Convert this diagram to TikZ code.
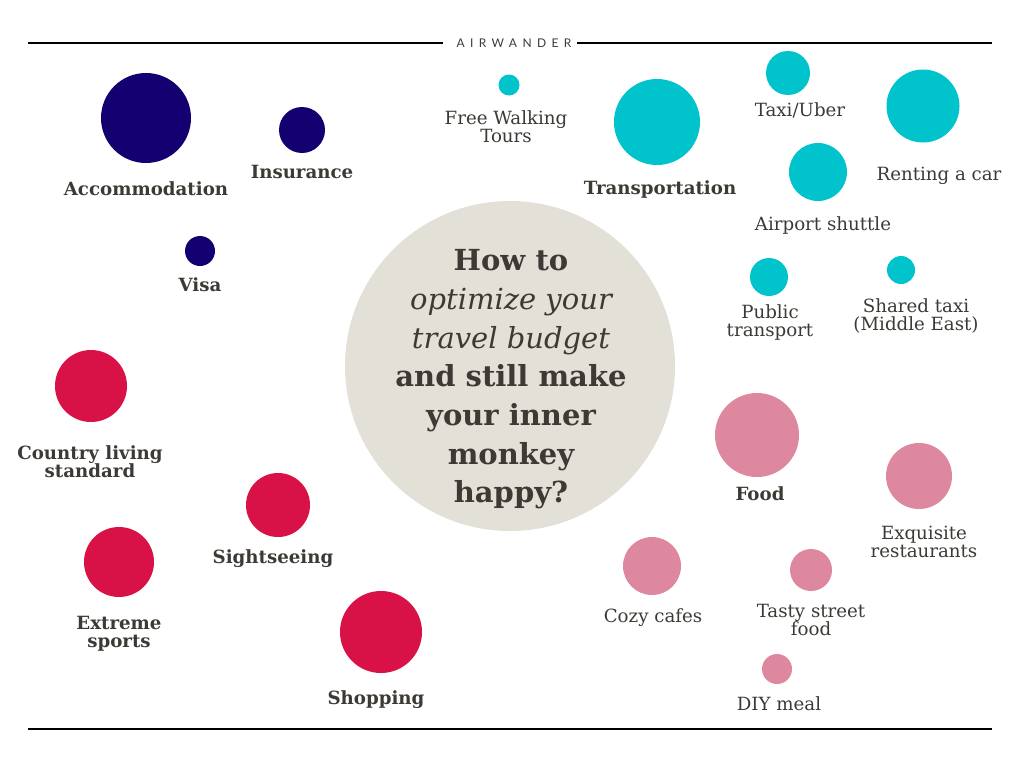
\documentclass[tikz,border=0pt]{standalone}
\usepackage{fontspec}
\setmainfont{DejaVu Serif}
\newfontfamily\brand[LetterSpace=45]{Lato}
\definecolor{navy}{HTML}{140070}
\definecolor{teal}{HTML}{00C3CC}
\definecolor{pinkc}{HTML}{DE889F}
\definecolor{redc}{HTML}{D81246}
\definecolor{greyc}{HTML}{E3E0D8}
\definecolor{ink}{HTML}{3D3A35}
\newcommand{\fsz}[2]{\fontsize{#1}{#2}\selectfont}
\tikzset{
  dot/.style={circle, draw=none, inner sep=0pt},
  lab/.style={text=ink, align=center, inner sep=0pt, font=\fsz{18.2}{18}},
  blab/.style={lab, font=\fsz{18.2}{18}\bfseries},
  rule/.style={line width=2.5pt, black}
}
\begin{document}
\begin{tikzpicture}[x=1pt,y=-1pt]
\useasboundingbox (0,0) rectangle (1024,768);
% header/footer
\coordinate (tl1) at (28,43); \coordinate (tl2) at (443,43);
\coordinate (tr1) at (577,43); \coordinate (tr2) at (992,43);
\coordinate (bl) at (28,729); \coordinate (br) at (992,729);
\draw[line width=2pt] (tl1) -- (tl2);
\draw[rule] (tr1) -- (tr2);
\draw[rule] (bl) -- (br);
\node[text=ink, font=\brand\fsz{12}{12}] (brand) at (514,43) {AIRWANDER};
% central circle
\node[dot, fill=greyc, minimum size=330pt] (center) at (510,366) {};
\node[text=ink, align=center, font=\fsz{29}{38.7}\bfseries] (title) at (511,379.5)
 {How to\\ {\mdseries\itshape optimize your}\\ {\mdseries\itshape travel budget}\\ and still make\\ your inner\\ monkey\\ happy?};
% navy
\node[dot, fill=navy, minimum size=90pt] (acc) at (146,118) {};
\node[blab] (accl) at (146,189) {Accommodation};
\node[dot, fill=navy, minimum size=46pt] (ins) at (302,130) {};
\node[blab] (insl) at (302,172) {Insurance};
\node[dot, fill=navy, minimum size=30pt] (visa) at (200,251) {};
\node[blab] (visal) at (200,285) {Visa};
% teal
\node[dot, fill=teal, minimum size=21pt] (fwt) at (509,85) {};
\node[lab] (fwtl) at (506,127) {Free Walking\\Tours};
\node[dot, fill=teal, minimum size=86pt] (tra) at (657,122) {};
\node[blab] (tral) at (660,189) {Transportation};
\node[dot, fill=teal, minimum size=44pt] (taxi) at (788,73) {};
\node[lab] (taxil) at (800,110) {Taxi/Uber};
\node[dot, fill=teal, minimum size=73pt] (rent) at (923,106) {};
\node[lab] (rentl) at (939,176) {Renting a car};
\node[dot, fill=teal, minimum size=58pt] (air) at (818,172) {};
\node[lab] (airl) at (823,225) {Airport shuttle};
\node[dot, fill=teal, minimum size=38pt] (pub) at (769,277) {};
\node[lab] (publ) at (770,322) {Public\\transport};
\node[dot, fill=teal, minimum size=28pt] (shr) at (901,270) {};
\node[lab] (shrl) at (916,316) {Shared taxi\\(Middle East)};
% pink
\node[dot, fill=pinkc, minimum size=84pt] (food) at (757,435) {};
\node[blab] (foodl) at (760,494) {Food};
\node[dot, fill=pinkc, minimum size=66pt] (exq) at (919,476) {};
\node[lab] (exql) at (924,542) {Exquisite\\restaurants};
\node[dot, fill=pinkc, minimum size=58pt] (cozy) at (652,566) {};
\node[lab] (cozyl) at (653,618) {Cozy cafes};
\node[dot, fill=pinkc, minimum size=42pt] (tasty) at (811,570) {};
\node[lab] (tastyl) at (811,620) {Tasty street\\food};
\node[dot, fill=pinkc, minimum size=30pt] (diy) at (777,669) {};
\node[lab] (diyl) at (779,704) {DIY meal};
% red
\node[dot, fill=redc, minimum size=72pt] (cls) at (91,386) {};
\node[blab] (clsl) at (90,462) {Country living\\standard};
\node[dot, fill=redc, minimum size=64pt] (sight) at (278,505) {};
\node[blab] (sightl) at (273,559) {Sightseeing};
\node[dot, fill=redc, minimum size=70pt] (ext) at (119,562) {};
\node[blab] (extl) at (119,634) {Extreme\\sports};
\node[dot, fill=redc, minimum size=82pt] (shop) at (381,632) {};
\node[blab] (shopl) at (376,700) {Shopping};
\end{tikzpicture}
\end{document}
